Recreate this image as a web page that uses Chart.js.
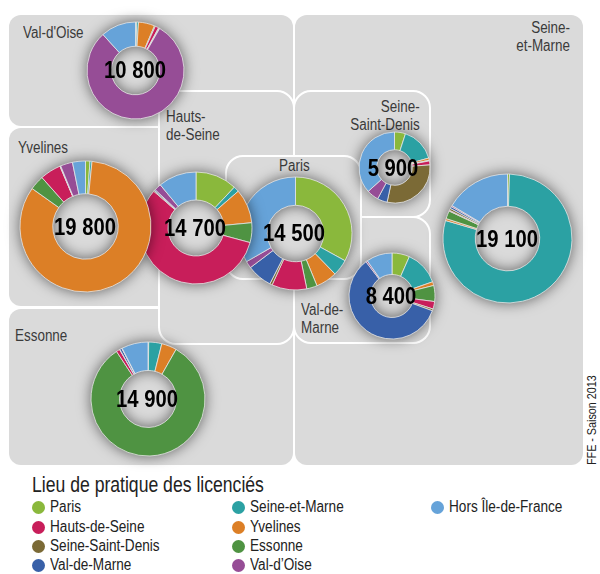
<!DOCTYPE html>
<html lang="fr">
<head>
<meta charset="utf-8">
<title>Lieu de pratique des licenciés</title>
<script src="https://cdn.jsdelivr.net/npm/chart.js@4/dist/chart.umd.min.js"></script>
<style>
  html, body { margin: 0; padding: 0; background: #fff; }
  #page { position: relative; width: 600px; height: 574px; overflow: hidden;
    font-family: "Liberation Sans", sans-serif; color: #333; }
  .panel { position: absolute; background: #dadada; box-sizing: border-box; }
  .outline { border: 2.5px solid #fff; }
  canvas { position: absolute; filter: drop-shadow(0 0 7px rgba(0,0,0,.55)); }
  .zone { position: absolute; font-size: 16px; line-height: 18px; color: #3a3a3a; white-space: nowrap;
    transform: scaleX(.84); transform-origin: left top; }
  .zone.right { text-align: right; transform-origin: right top; }
  .total { position: absolute; width: 90px; margin-left: -45px; text-align: center; font-size: 23px; line-height: 24px;
    font-weight: bold; color: #000; margin-top: -12px; white-space: nowrap; transform: scaleX(.88); }
  .title { position: absolute; left: 32px; top: 472px; font-size: 22px; line-height: 26px; color: #222;
    white-space: nowrap; transform: scaleX(.8); transform-origin: left top; }
  .leg { position: absolute; font-size: 16px; line-height: 18px; color: #222; white-space: nowrap;
    transform: scaleX(.85); transform-origin: left top; }
  .dot { position: absolute; width: 13px; height: 13px; border-radius: 50%; }
  .source { position: absolute; left: 585px; top: 465px; font-size: 12.5px; line-height: 14px; color: #222;
    white-space: nowrap; transform-origin: left top; transform: rotate(-90deg) scaleX(.86); }
</style>
</head>
<body>
<div id="page">
  <div class="panel" style="left:9px;top:15px;width:284px;height:111px;border-radius:12px"></div>
  <div class="panel" style="left:9px;top:128px;width:160px;height:178px;border-radius:12px 0 0 12px"></div>
  <div class="panel" style="left:9px;top:309px;width:284px;height:156px;border-radius:12px"></div>
  <div class="panel outline" style="left:158px;top:90px;width:137px;height:255px;border-radius:0 18px 18px 18px"></div>
  <div class="panel" style="left:295px;top:15px;width:288px;height:450px;border-radius:12px"></div>
  <div class="panel outline" style="left:293px;top:90px;width:138px;height:128px;border-radius:18px 18px 18px 0"></div>
  <div class="panel outline" style="left:293px;top:216px;width:138px;height:128px;border-radius:0 18px 18px 18px"></div>
  <div class="panel outline" style="left:225px;top:155px;width:137px;height:125px;border-radius:18px"></div>

  <div class="zone" style="left:23px;top:24px">Val-d'Oise</div>
  <div class="zone" style="left:166px;top:108px">Hauts-<br>de-Seine</div>
  <div class="zone" style="left:18px;top:139px">Yvelines</div>
  <div class="zone" style="left:279px;top:157px">Paris</div>
  <div class="zone right" style="right:180px;top:98px">Seine-<br>Saint-Denis</div>
  <div class="zone right" style="right:30px;top:19px">Seine-<br>et-Marne</div>
  <div class="zone" style="left:301px;top:301px">Val-de-<br>Marne</div>
  <div class="zone" style="left:15px;top:327px">Essonne</div>

  <div class="title">Lieu de pratique des licenciés</div>
  <div class="source">FFE - Saison 2013</div>
</div>

<script>
// lieux de pratique, dans l'ordre de lecture des anneaux
const categories = ["Paris", "Seine-et-Marne", "Yvelines", "Essonne", "Hauts-de-Seine",
  "Seine-Saint-Denis", "Val-de-Marne", "Val-d'Oise", "Hors Île-de-France"];

// part des licenciés en %
const parisValues = [33, 4.7, 6.1, 3, 10, 0.7, 7.2, 2, 33.3];
const hautsDeSeineValues = [12, 1.6, 9.9, 5.7, 57.2, 0.3, 0.3, 2, 11];
const seineSaintDenisValues = [5, 15.7, 1, 0.3, 1.8, 29.5, 4.5, 5.4, 36.7];
const valDeMarneValues = [6.6, 13, 1.4, 6, 2.8, 0.7, 58.9, 0.6, 9.7];
const seineEtMarneValues = [0.5, 78.6, 0.5, 2, 0.2, 0.5, 0.5, 0.3, 16.4];
const yvelinesValues = [1.1, 0.5, 83.5, 3.6, 5.2, 0.1, 0.1, 3, 3.2];
const essonneValues = [0.2, 3.7, 4.3, 82.5, 1, 0.1, 0.6, 0.1, 7.5];
const valDOiseValues = [0.4, 0.6, 5.4, 0.3, 1.2, 0.2, 0.2, 80, 11.7];

const totals = ["14 500", "14 700", "5 900", "8 400", "19 100", "19 800", "14 900", "10 800"];

const colors = {
  "Paris": "#8ab83c",
  "Seine-et-Marne": "#2ba1a3",
  "Yvelines": "#dc7f26",
  "Essonne": "#4f9342",
  "Hauts-de-Seine": "#c81e5a",
  "Seine-Saint-Denis": "#7b6a36",
  "Val-de-Marne": "#3860a8",
  "Val-d'Oise": "#964d96",
  "Hors Île-de-France": "#66a3d9"
};

// centre, rayon ; l'ordre donne l'empilement (Paris dessous, Yvelines dessus)
const rings = [
  { values: parisValues, x: 295, y: 233, r: 56.5, hole: 50 },
  { values: hautsDeSeineValues, x: 196, y: 228, r: 56, hole: 50 },
  { values: seineSaintDenisValues, x: 394, y: 167.5, r: 35.5, hole: 50 },
  { values: valDeMarneValues, x: 391.5, y: 295.5, r: 43, hole: 50 },
  { values: seineEtMarneValues, x: 507.5, y: 238.5, r: 64.5, hole: 50 },
  { values: yvelinesValues, x: 85.5, y: 226.5, r: 65.5, hole: 50 },
  { values: essonneValues, x: 148, y: 399, r: 57, hole: 50 },
  { values: valDOiseValues, x: 135.5, y: 70, r: 48.5, hole: 50 }
];

const page = document.getElementById("page");

rings.forEach((ring, i) => {
  const size = Math.ceil(ring.r * 2) + 4;
  const canvas = document.createElement("canvas");
  canvas.width = size;
  canvas.height = size;
  canvas.style.width = size + "px";
  canvas.style.height = size + "px";
  canvas.style.left = (ring.x - size / 2) + "px";
  canvas.style.top = (ring.y - size / 2) + "px";
  page.appendChild(canvas);

  new Chart(canvas, {
    type: "doughnut",
    data: {
      labels: categories,
      datasets: [{
        data: ring.values,
        backgroundColor: categories.map(c => colors[c]),
        borderColor: "#e6e6e6",
        borderWidth: 0.8
      }]
    },
    options: {
      responsive: false,
      animation: false,
      radius: ring.r,
      cutout: ring.hole + "%",
      layout: { padding: 0 },
      plugins: { legend: { display: false }, tooltip: { enabled: false } }
    }
  });
});

// les totaux passent au-dessus de tous les anneaux
rings.forEach((ring, i) => {
  const label = document.createElement("div");
  label.className = "total";
  label.style.left = (ring.x - 1) + "px";
  label.style.top = ring.y + "px";
  label.textContent = totals[i];
  page.appendChild(label);
});

// legende : 3 colonnes, ordre du document source
const legendOrder = [
  ["Paris", "Hauts-de-Seine", "Seine-Saint-Denis", "Val-de-Marne"],
  ["Seine-et-Marne", "Yvelines", "Essonne", "Val-d'Oise"],
  ["Hors Île-de-France"]
];
const legendX = [32, 232, 431];
const legendY = [507, 527, 546, 565];
legendOrder.forEach((col, c) => {
  col.forEach((name, r) => {
    const dot = document.createElement("div");
    dot.className = "dot";
    dot.style.left = legendX[c] + "px";
    dot.style.top = (legendY[r] - 6.5) + "px";
    dot.style.background = colors[name];
    page.appendChild(dot);
    const txt = document.createElement("div");
    txt.className = "leg";
    txt.style.left = (legendX[c] + 18) + "px";
    txt.style.top = (legendY[r] - 9) + "px";
    txt.textContent = name.replace("d'Oise", "d’Oise");
    page.appendChild(txt);
  });
});
</script>
</body>
</html>
